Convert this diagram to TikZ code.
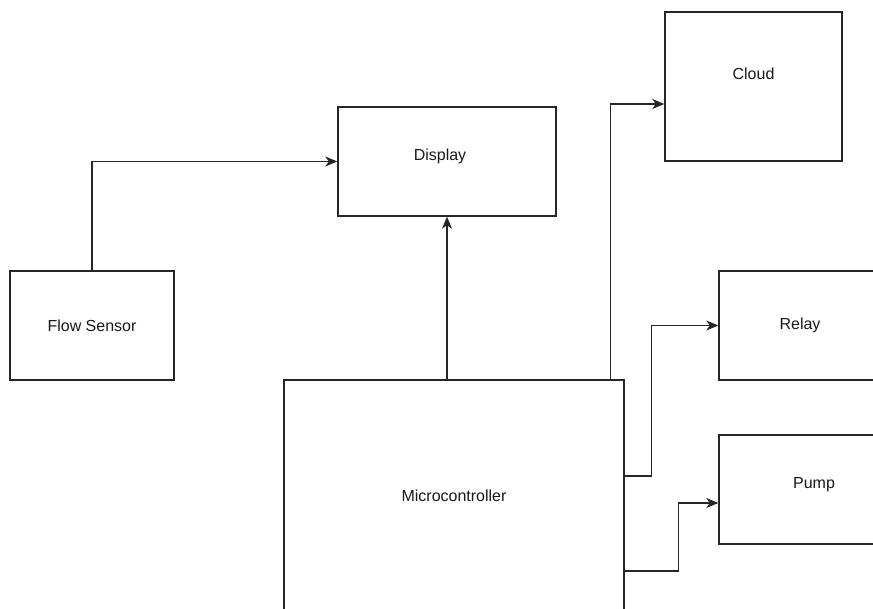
\documentclass[tikz,border=0pt]{standalone}
\usepackage{fontspec}
\setmainfont{Liberation Sans}
\usetikzlibrary{arrows.meta,calc}
\begin{document}
\begin{tikzpicture}[x=1pt,y=-1pt,
  lbl/.style={font=\fontsize{16}{19}\selectfont,text=black!90},
  box/.style={draw=black!85,line width=1.4pt,rectangle,inner sep=0pt,lbl},
  arr/.style={draw=black!85,line width=1.4pt,-{Stealth[length=12pt,width=10pt,inset=3.5pt]}}]
\useasboundingbox (0,0) rectangle (873,609);
\clip (0,0) rectangle (873,609);
\fill[white] (0,0) rectangle (873,609);
\node[box,minimum width=164pt,minimum height=109pt] (flow) at (92,325.5) {Flow Sensor};
\node[box,minimum width=218pt,minimum height=109pt,label={[lbl,xshift=-7pt,yshift=5pt]center:Display}] (disp) at (447,161.5) {};
\node[box,minimum width=177pt,minimum height=149pt,label={[lbl,yshift=13pt]center:Cloud}] (cloud) at (753.5,86.5) {};
\node[box,minimum width=162pt,minimum height=109pt] (relay) at (800,325.5) {Relay};
\node[box,minimum width=190pt,minimum height=109pt,label={[lbl,yshift=5pt]center:Pump}] (pump) at (814,489.5) {};
\node[box,minimum width=340pt,minimum height=232pt] (micro) at (454,496) {Microcontroller};
\coordinate (cloudin) at ($(cloud.west)+(0,17.5)$);
\coordinate (pumpin) at ($(pump.west)+(0,13.5)$);
\coordinate (mtop) at ($(micro.north east)+(-14,0)$);
\coordinate (m1) at ($(micro.east)+(0,-20)$);
\coordinate (m2) at ($(micro.east)+(0,75)$);
\draw[arr] (flow.north) |- (disp.west);
\draw[arr] (micro.north -| disp.south) -- (disp.south);
\draw[arr] (mtop) |- (cloudin);
\draw[arr] (m1) -- ++(27,0) |- (relay.west);
\draw[arr] (m2) -- ++(54,0) |- (pumpin);
\end{tikzpicture}
\end{document}
